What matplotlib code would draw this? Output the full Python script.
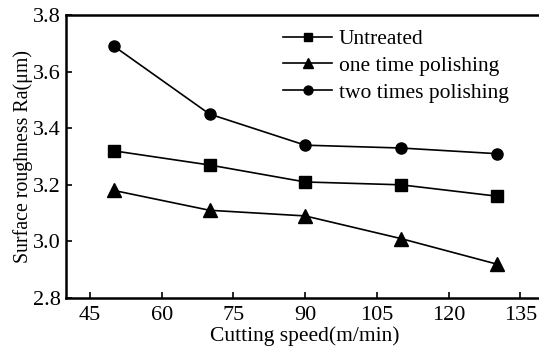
import matplotlib
matplotlib.use("Agg")
import matplotlib.pyplot as plt

speed = [50, 70, 90, 110, 130]
untreated = [3.32, 3.27, 3.21, 3.20, 3.16]
one_time = [3.18, 3.11, 3.09, 3.01, 2.92]
two_times = [3.69, 3.45, 3.34, 3.33, 3.31]
xticks = [45, 60, 75, 90, 105, 120, 135]
yticks = [2.8, 3.0, 3.2, 3.4, 3.6, 3.8]

plt.rcParams['font.family'] = ['Liberation Serif', 'DejaVu Serif']

fig = plt.figure(figsize=(5.39, 3.49), dpi=100)
ax = fig.add_axes([66/539, 1 - 298/349, 1 - 66/539 + 0.01, (298 - 15)/349])

kw = dict(color='black', linewidth=1.2, markersize=8)
ax.plot(speed, untreated, marker='s', label='Untreated', **kw)
ax.plot(speed, one_time, marker='^', label='one time polishing', markersize=9.5,
        color='black', linewidth=1.2)
ax.plot(speed, two_times, marker='o', label='two times polishing', **kw)

ax.set_xlim(40, 140)
ax.set_ylim(2.8, 3.8)
ax.set_xticks(xticks)
ax.set_yticks(yticks)
ax.set_yticklabels([f"{v:.1f}" for v in yticks])
ax.tick_params(direction='in', length=4, width=1.2, labelsize=16)
ax.tick_params(axis='x', pad=6)
ax.tick_params(axis='y', pad=4)
for s in ax.spines.values():
    s.set_linewidth(1.8)
ax.spines['right'].set_visible(False)

ax.set_xlabel('Cutting speed(m/min)', fontsize=15.5, labelpad=1)
ax.set_ylabel('Surface roughness Ra(μm)', fontsize=14.3, labelpad=0)

leg = ax.legend(loc='upper left', bbox_to_anchor=(0.424, 1.0), frameon=False,
                fontsize=15.5, markerscale=0.8, handlelength=2.3, handletextpad=0.3,
                labelspacing=0.32, borderaxespad=0.25)

fig.savefig('out.png', dpi=100)
